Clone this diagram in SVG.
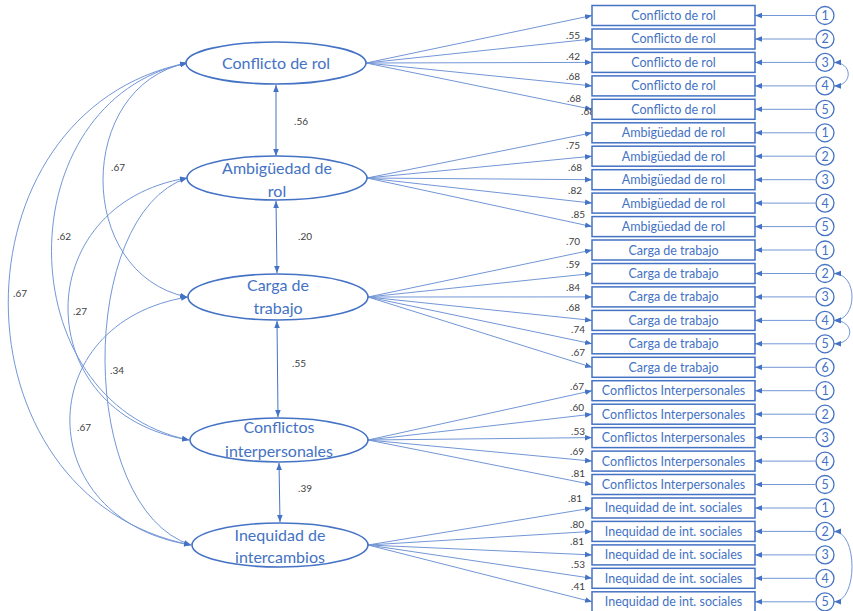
<svg xmlns="http://www.w3.org/2000/svg" width="853" height="611" viewBox="0 0 853 611">
<defs>
<marker id="ah" viewBox="0 0 10 10" refX="10" refY="5" markerWidth="7" markerHeight="7" orient="auto-start-reverse" markerUnits="userSpaceOnUse"><path d="M0,1 L10,5 L0,9 z" fill="#4472C4"/></marker>
</defs>
<style>
.bg{fill:#fff}
.ell{fill:#fff;stroke:#4472C4;stroke-width:1.6}
.et{font-family:Lato,"Liberation Sans",sans-serif;font-size:16px;fill:#4472C4;text-anchor:middle}
.box{fill:#fff;stroke:#4472C4;stroke-width:1.5}
.bt{font-family:Lato,"Liberation Sans",sans-serif;font-size:12.5px;fill:#4472C4;text-anchor:middle}
.cir{fill:#fff;stroke:#4472C4;stroke-width:1.3}
.ct{font-family:Lato,"Liberation Sans",sans-serif;font-size:12.5px;fill:#4472C4;text-anchor:middle}
.ln{fill:none;stroke:#7396d6;stroke-width:1}
.arr{marker-end:url(#ah)}
.dbl{marker-start:url(#ah);marker-end:url(#ah)}
.lb{font-family:Lato,"Liberation Sans",sans-serif;font-size:10px;fill:#404040;text-anchor:middle}
</style>
<rect class="bg" x="0" y="0" width="853" height="611"/>

<g id="connectors">
<path class="ln dbl" d="M187,63 C-52,111 -52,497 191,545"/>
<path class="ln dbl" d="M187,63 C6,101 6,402 189,440"/>
<path class="ln dbl" d="M187,63 C75,86 75,274 187,297"/>
<path class="ln dbl" d="M187,178 C28,204 28,414 189,440"/>
<path class="ln dbl" d="M187,178 C77,214 77,508 191,545"/>
<path class="ln dbl" d="M188,297 C30,322 30,520 191,545"/>
<line class="ln dbl" x1="276" y1="85" x2="276" y2="156" style="stroke:#4472C4"/>
<line class="ln dbl" x1="276" y1="201" x2="277" y2="273" style="stroke:#4472C4"/>
<line class="ln dbl" x1="277" y1="321" x2="278" y2="417" style="stroke:#4472C4"/>
<line class="ln dbl" x1="279" y1="463" x2="280" y2="522" style="stroke:#4472C4"/>
<path class="ln arr" d="M366,63 L592,15.5"/>
<path class="ln arr" d="M366,63 L592,39"/>
<path class="ln arr" d="M366,63 L592,62.4"/>
<path class="ln arr" d="M366,63 L592,85.9"/>
<path class="ln arr" d="M366,63 L592,109.3"/>
<path class="ln arr" d="M367,178 L592,132.8"/>
<path class="ln arr" d="M367,178 L592,156.2"/>
<path class="ln arr" d="M367,178 L592,179.7"/>
<path class="ln arr" d="M367,178 L592,203.1"/>
<path class="ln arr" d="M367,178 L592,226.6"/>
<path class="ln arr" d="M368,297 L592,250"/>
<path class="ln arr" d="M368,297 L592,273.5"/>
<path class="ln arr" d="M368,297 L592,296.9"/>
<path class="ln arr" d="M368,297 L592,320.4"/>
<path class="ln arr" d="M368,297 L592,343.8"/>
<path class="ln arr" d="M368,297 L592,367.3"/>
<path class="ln arr" d="M368,440 L592,390.7"/>
<path class="ln arr" d="M368,440 L592,414.2"/>
<path class="ln arr" d="M368,440 L592,437.6"/>
<path class="ln arr" d="M368,440 L592,461.1"/>
<path class="ln arr" d="M368,440 L592,484.5"/>
<path class="ln arr" d="M368,545 L592,508"/>
<path class="ln arr" d="M368,545 L592,531.4"/>
<path class="ln arr" d="M368,545 L592,554.9"/>
<path class="ln arr" d="M368,545 L592,578.3"/>
<path class="ln arr" d="M368,545 L592,601.8"/>
<line class="ln arr" x1="815" y1="15.5" x2="755" y2="15.5"/>
<line class="ln arr" x1="815" y1="39" x2="755" y2="39"/>
<line class="ln arr" x1="815" y1="62.4" x2="755" y2="62.4"/>
<line class="ln arr" x1="815" y1="85.9" x2="755" y2="85.9"/>
<line class="ln arr" x1="815" y1="109.3" x2="755" y2="109.3"/>
<line class="ln arr" x1="815" y1="132.8" x2="755" y2="132.8"/>
<line class="ln arr" x1="815" y1="156.2" x2="755" y2="156.2"/>
<line class="ln arr" x1="815" y1="179.7" x2="755" y2="179.7"/>
<line class="ln arr" x1="815" y1="203.1" x2="755" y2="203.1"/>
<line class="ln arr" x1="815" y1="226.6" x2="755" y2="226.6"/>
<line class="ln arr" x1="815" y1="250" x2="755" y2="250"/>
<line class="ln arr" x1="815" y1="273.5" x2="755" y2="273.5"/>
<line class="ln arr" x1="815" y1="296.9" x2="755" y2="296.9"/>
<line class="ln arr" x1="815" y1="320.4" x2="755" y2="320.4"/>
<line class="ln arr" x1="815" y1="343.8" x2="755" y2="343.8"/>
<line class="ln arr" x1="815" y1="367.3" x2="755" y2="367.3"/>
<line class="ln arr" x1="815" y1="390.7" x2="755" y2="390.7"/>
<line class="ln arr" x1="815" y1="414.2" x2="755" y2="414.2"/>
<line class="ln arr" x1="815" y1="437.6" x2="755" y2="437.6"/>
<line class="ln arr" x1="815" y1="461.1" x2="755" y2="461.1"/>
<line class="ln arr" x1="815" y1="484.5" x2="755" y2="484.5"/>
<line class="ln arr" x1="815" y1="508" x2="755" y2="508"/>
<line class="ln arr" x1="815" y1="531.4" x2="755" y2="531.4"/>
<line class="ln arr" x1="815" y1="554.9" x2="755" y2="554.9"/>
<line class="ln arr" x1="815" y1="578.3" x2="755" y2="578.3"/>
<line class="ln arr" x1="815" y1="601.8" x2="755" y2="601.8"/>
<path class="ln dbl" d="M834,62.4 C853,62.4 853,85.9 834,85.9"/>
<path class="ln dbl" d="M834,273.5 C858,273.5 858,320.4 834,320.4"/>
<path class="ln dbl" d="M834,320.4 C855,320.4 855,343.8 834,343.8"/>
<path class="ln dbl" d="M834,531.4 C858,531.4 858,601.8 834,601.8"/>
</g>

<g id="labels">
<text class="lb" x="118" y="171">.67</text>
<text class="lb" x="64" y="240">.62</text>
<text class="lb" x="20" y="297">.67</text>
<text class="lb" x="80" y="315">.27</text>
<text class="lb" x="117" y="374">.34</text>
<text class="lb" x="84" y="431">.67</text>
<text class="lb" x="301" y="125">.56</text>
<text class="lb" x="305" y="240">.20</text>
<text class="lb" x="299" y="367">.55</text>
<text class="lb" x="305" y="492">.39</text>
<text class="lb" x="573" y="39">.55</text>
<text class="lb" x="573" y="60">.42</text>
<text class="lb" x="573" y="80">.68</text>
<text class="lb" x="574" y="102">.68</text>
<text class="lb" x="588" y="115">.68</text>
<text class="lb" x="573" y="149">.75</text>
<text class="lb" x="575" y="171">.68</text>
<text class="lb" x="575" y="194">.82</text>
<text class="lb" x="578" y="218">.85</text>
<text class="lb" x="573" y="245">.70</text>
<text class="lb" x="573" y="268">.59</text>
<text class="lb" x="573" y="291">.84</text>
<text class="lb" x="573" y="311">.68</text>
<text class="lb" x="578" y="333">.74</text>
<text class="lb" x="578" y="356">.67</text>
<text class="lb" x="577" y="390">.67</text>
<text class="lb" x="577" y="411">.60</text>
<text class="lb" x="578" y="435">.53</text>
<text class="lb" x="577" y="455">.69</text>
<text class="lb" x="578" y="477">.81</text>
<text class="lb" x="575" y="502">.81</text>
<text class="lb" x="577" y="528">.80</text>
<text class="lb" x="577" y="545">.81</text>
<text class="lb" x="578" y="568">.53</text>
<text class="lb" x="578" y="590">.41</text>
</g>

<g id="f1"><ellipse class="ell" cx="276" cy="63" rx="90" ry="21"/><text class="et" x="276" y="69">Conflicto de rol</text></g>
<g id="f2"><ellipse class="ell" cx="277" cy="178" rx="90" ry="22"/><text class="et" x="277" y="174">Ambigüedad de</text><text class="et" x="277" y="197">rol</text></g>
<g id="f3"><ellipse class="ell" cx="278" cy="297" rx="90" ry="23"/><text class="et" x="278" y="291">Carga de</text><text class="et" x="278" y="314">trabajo</text></g>
<g id="f4"><ellipse class="ell" cx="279" cy="440" rx="89" ry="22"/><text class="et" x="279" y="433">Conflictos</text><text class="et" x="279" y="457">interpersonales</text></g>
<g id="f5"><ellipse class="ell" cx="280" cy="545" rx="88" ry="22"/><text class="et" x="280" y="541">Inequidad de</text><text class="et" x="280" y="563">intercambios</text></g>

<g id="i1"><rect class="box" x="592" y="5.5" width="163" height="20"/><text class="bt" x="673.5" y="20">Conflicto de rol</text></g>
<g id="i2"><rect class="box" x="592" y="29" width="163" height="20"/><text class="bt" x="673.5" y="43.4">Conflicto de rol</text></g>
<g id="i3"><rect class="box" x="592" y="52.4" width="163" height="20"/><text class="bt" x="673.5" y="66.9">Conflicto de rol</text></g>
<g id="i4"><rect class="box" x="592" y="75.9" width="163" height="20"/><text class="bt" x="673.5" y="90.3">Conflicto de rol</text></g>
<g id="i5"><rect class="box" x="592" y="99.3" width="163" height="20"/><text class="bt" x="673.5" y="113.8">Conflicto de rol</text></g>
<g id="i6"><rect class="box" x="592" y="122.8" width="163" height="20"/><text class="bt" x="673.5" y="137.2">Ambigüedad de rol</text></g>
<g id="i7"><rect class="box" x="592" y="146.2" width="163" height="20"/><text class="bt" x="673.5" y="160.7">Ambigüedad de rol</text></g>
<g id="i8"><rect class="box" x="592" y="169.7" width="163" height="20"/><text class="bt" x="673.5" y="184.1">Ambigüedad de rol</text></g>
<g id="i9"><rect class="box" x="592" y="193.1" width="163" height="20"/><text class="bt" x="673.5" y="207.6">Ambigüedad de rol</text></g>
<g id="i10"><rect class="box" x="592" y="216.6" width="163" height="20"/><text class="bt" x="673.5" y="231">Ambigüedad de rol</text></g>
<g id="i11"><rect class="box" x="592" y="240" width="163" height="20"/><text class="bt" x="673.5" y="254.5">Carga de trabajo</text></g>
<g id="i12"><rect class="box" x="592" y="263.5" width="163" height="20"/><text class="bt" x="673.5" y="277.9">Carga de trabajo</text></g>
<g id="i13"><rect class="box" x="592" y="286.9" width="163" height="20"/><text class="bt" x="673.5" y="301.4">Carga de trabajo</text></g>
<g id="i14"><rect class="box" x="592" y="310.4" width="163" height="20"/><text class="bt" x="673.5" y="324.8">Carga de trabajo</text></g>
<g id="i15"><rect class="box" x="592" y="333.8" width="163" height="20"/><text class="bt" x="673.5" y="348.3">Carga de trabajo</text></g>
<g id="i16"><rect class="box" x="592" y="357.3" width="163" height="20"/><text class="bt" x="673.5" y="371.7">Carga de trabajo</text></g>
<g id="i17"><rect class="box" x="592" y="380.7" width="163" height="20"/><text class="bt" x="673.5" y="395.2">Conflictos Interpersonales</text></g>
<g id="i18"><rect class="box" x="592" y="404.2" width="163" height="20"/><text class="bt" x="673.5" y="418.6">Conflictos Interpersonales</text></g>
<g id="i19"><rect class="box" x="592" y="427.6" width="163" height="20"/><text class="bt" x="673.5" y="442.1">Conflictos Interpersonales</text></g>
<g id="i20"><rect class="box" x="592" y="451.1" width="163" height="20"/><text class="bt" x="673.5" y="465.5">Conflictos Interpersonales</text></g>
<g id="i21"><rect class="box" x="592" y="474.5" width="163" height="20"/><text class="bt" x="673.5" y="489">Conflictos Interpersonales</text></g>
<g id="i22"><rect class="box" x="592" y="498" width="163" height="20"/><text class="bt" x="673.5" y="512.4">Inequidad de int. sociales</text></g>
<g id="i23"><rect class="box" x="592" y="521.4" width="163" height="20"/><text class="bt" x="673.5" y="535.9">Inequidad de int. sociales</text></g>
<g id="i24"><rect class="box" x="592" y="544.9" width="163" height="20"/><text class="bt" x="673.5" y="559.3">Inequidad de int. sociales</text></g>
<g id="i25"><rect class="box" x="592" y="568.3" width="163" height="20"/><text class="bt" x="673.5" y="582.8">Inequidad de int. sociales</text></g>
<g id="i26"><rect class="box" x="592" y="591.8" width="163" height="20"/><text class="bt" x="673.5" y="606.2">Inequidad de int. sociales</text></g>

<g id="e1"><circle class="cir" cx="825" cy="15.5" r="9"/><text class="ct" x="825" y="20">1</text></g>
<g id="e2"><circle class="cir" cx="825" cy="39" r="9"/><text class="ct" x="825" y="43.4">2</text></g>
<g id="e3"><circle class="cir" cx="825" cy="62.4" r="9"/><text class="ct" x="825" y="66.9">3</text></g>
<g id="e4"><circle class="cir" cx="825" cy="85.9" r="9"/><text class="ct" x="825" y="90.3">4</text></g>
<g id="e5"><circle class="cir" cx="825" cy="109.3" r="9"/><text class="ct" x="825" y="113.8">5</text></g>
<g id="e6"><circle class="cir" cx="825" cy="132.8" r="9"/><text class="ct" x="825" y="137.2">1</text></g>
<g id="e7"><circle class="cir" cx="825" cy="156.2" r="9"/><text class="ct" x="825" y="160.7">2</text></g>
<g id="e8"><circle class="cir" cx="825" cy="179.7" r="9"/><text class="ct" x="825" y="184.1">3</text></g>
<g id="e9"><circle class="cir" cx="825" cy="203.1" r="9"/><text class="ct" x="825" y="207.6">4</text></g>
<g id="e10"><circle class="cir" cx="825" cy="226.6" r="9"/><text class="ct" x="825" y="231">5</text></g>
<g id="e11"><circle class="cir" cx="825" cy="250" r="9"/><text class="ct" x="825" y="254.5">1</text></g>
<g id="e12"><circle class="cir" cx="825" cy="273.5" r="9"/><text class="ct" x="825" y="277.9">2</text></g>
<g id="e13"><circle class="cir" cx="825" cy="296.9" r="9"/><text class="ct" x="825" y="301.4">3</text></g>
<g id="e14"><circle class="cir" cx="825" cy="320.4" r="9"/><text class="ct" x="825" y="324.8">4</text></g>
<g id="e15"><circle class="cir" cx="825" cy="343.8" r="9"/><text class="ct" x="825" y="348.3">5</text></g>
<g id="e16"><circle class="cir" cx="825" cy="367.3" r="9"/><text class="ct" x="825" y="371.7">6</text></g>
<g id="e17"><circle class="cir" cx="825" cy="390.7" r="9"/><text class="ct" x="825" y="395.2">1</text></g>
<g id="e18"><circle class="cir" cx="825" cy="414.2" r="9"/><text class="ct" x="825" y="418.6">2</text></g>
<g id="e19"><circle class="cir" cx="825" cy="437.6" r="9"/><text class="ct" x="825" y="442.1">3</text></g>
<g id="e20"><circle class="cir" cx="825" cy="461.1" r="9"/><text class="ct" x="825" y="465.5">4</text></g>
<g id="e21"><circle class="cir" cx="825" cy="484.5" r="9"/><text class="ct" x="825" y="489">5</text></g>
<g id="e22"><circle class="cir" cx="825" cy="508" r="9"/><text class="ct" x="825" y="512.4">1</text></g>
<g id="e23"><circle class="cir" cx="825" cy="531.4" r="9"/><text class="ct" x="825" y="535.9">2</text></g>
<g id="e24"><circle class="cir" cx="825" cy="554.9" r="9"/><text class="ct" x="825" y="559.3">3</text></g>
<g id="e25"><circle class="cir" cx="825" cy="578.3" r="9"/><text class="ct" x="825" y="582.8">4</text></g>
<g id="e26"><circle class="cir" cx="825" cy="601.8" r="9"/><text class="ct" x="825" y="606.2">5</text></g>
</svg>
